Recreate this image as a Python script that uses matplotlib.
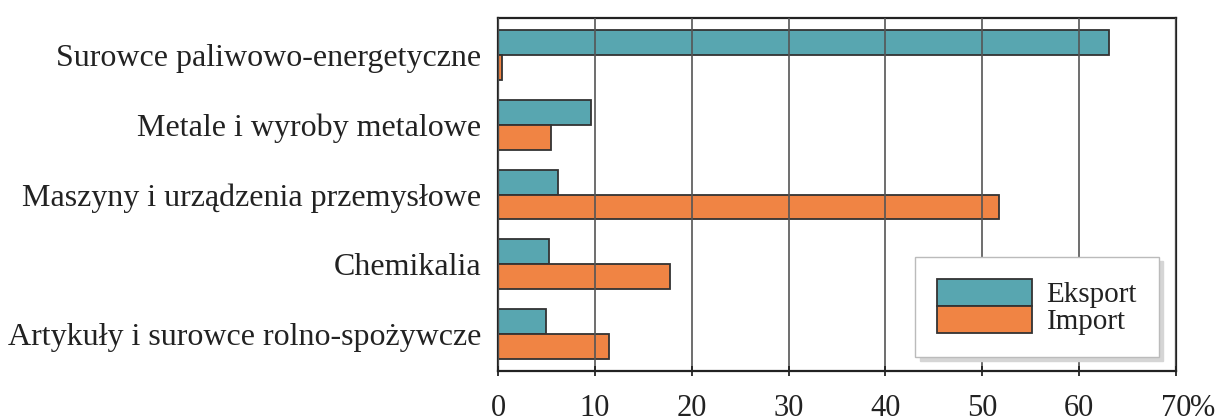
import numpy as np
import matplotlib
matplotlib.use('Agg')
import matplotlib.pyplot as plt

categories = ['Surowce paliwowo-energetyczne', 'Metale i wyroby metalowe',
              'Maszyny i urządzenia przemysłowe', 'Chemikalia',
              'Artykuły i surowce rolno-spożywcze']
eksport = [63.1, 9.6, 6.2, 5.3, 4.9]
import_ = [0.4, 5.5, 51.7, 17.8, 11.5]
xticks = [0, 10, 20, 30, 40, 50, 60, 70]

plt.rcParams['font.family'] = ['Liberation Serif', 'DejaVu Serif']

fig = plt.figure(figsize=(12.21, 4.17), dpi=100)
ax = fig.add_axes([0.408, 0.110, 0.555, 0.847])

y = np.arange(len(categories))
h = 0.357
ax.barh(y - h / 2, eksport, height=h, color='#58A6B0', edgecolor='#333333',
        linewidth=1.3, label='Eksport', zorder=1)
ax.barh(y + h / 2, import_, height=h, color='#F08444', edgecolor='#333333',
        linewidth=1.3, label='Import', zorder=1)

ax.set_xlim(0, 70)
ax.set_ylim(len(categories) - 0.47, -0.53)
ax.set_yticks(y)
ax.set_yticklabels(categories, fontsize=23, color='#222222')
ax.tick_params(axis='y', length=0, pad=12)
ax.set_xticks(xticks)
ax.set_xticklabels([str(t) for t in xticks], fontsize=22, color='#222222')
ax.tick_params(axis='x', direction='inout', length=7, width=1.3, pad=13,
               color='#222222')

ax.set_axisbelow(False)
ax.grid(axis='x', color='#555555', linewidth=1.2)
for s in ax.spines.values():
    s.set_linewidth(1.6)
    s.set_color('#222222')

# percent sign after the last tick label (cut by the edge, as in the original)
ax.annotate('%', xy=(1, 0), xycoords='axes fraction', xytext=(10.5, -16.5),
            textcoords='offset points', fontsize=22, color='#222222',
            ha='left', va='top', annotation_clip=False)

leg = ax.legend(loc='lower right', bbox_to_anchor=(0.975, 0.04), borderaxespad=0,
                fontsize=21, frameon=True, fancybox=False, labelspacing=-0.08,
                handlelength=3.25, handleheight=1.05, handletextpad=0.5,
                borderpad=0.75,
                shadow={'color': '#d5d5d5', 'alpha': 1, 'ox': 3, 'oy': -3})
leg.get_frame().set_edgecolor('#bbbbbb')
leg.get_frame().set_linewidth(1.0)
for t in leg.get_texts():
    t.set_color('#222222')

fig.savefig('out.png', dpi=100)
